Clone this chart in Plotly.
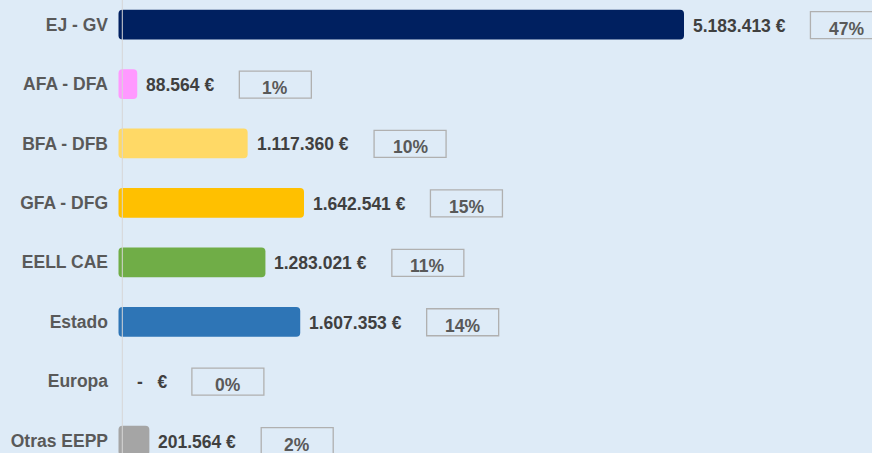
import plotly.graph_objects as go

# ---- data ----
categories = ["EJ - GV", "AFA - DFA", "BFA - DFB", "GFA - DFG",
              "EELL CAE", "Estado", "Europa", "Otras EEPP"]
values = [5183413, 88564, 1117360, 1642541, 1283021, 1607353, 0, 201564]
percent_labels = ["47%", "1%", "10%", "15%", "11%", "14%", "0%", "2%"]
bar_colors = ["#002060", "#FF99FF", "#FFD966", "#FFC000",
              "#70AD47", "#2E75B6", "#A5A5A5", "#A5A5A5"]

# ---- styling constants ----
W, H = 872, 453
LEFT = 115                  # plot area left edge (px)
ZERO_PX = 127.73            # pixel position of value 0
PX_PER_EUR = 1.07318e-4     # horizontal scale
BAR_START_PX = 118.5        # bars are drawn slightly left of zero
AXIS_LINE_PX = 122.3
FONT = "Liberation Sans"
FS = 17.5
BG = "#DEEBF7"

EUR_PER_PX = 1 / PX_PER_EUR
PAD = (ZERO_PX - BAR_START_PX) * EUR_PER_PX
x_range = [(LEFT - ZERO_PX) * EUR_PER_PX, (W - ZERO_PX) * EUR_PER_PX]

EM = {c: 0.556 for c in "0123456789"}
EM.update({".": 0.278, " ": 0.278, "\u00a0": 0.278, "€": 0.556, "-": 0.333, "%": 0.889})


def euro(v):
    if v == 0:
        return "-\u00a0\u00a0\u00a0€"
    return f"{v:,}".replace(",", ".") + " €"


def text_w(s):
    return sum(EM.get(c, 0.556) for c in s) * FS


value_labels = [euro(v) for v in values]

fig = go.Figure()
fig.add_trace(go.Bar(
    y=categories,
    x=[v + PAD if v > 0 else 0 for v in values],
    base=-PAD,
    orientation="h",
    width=0.5,
    marker=dict(color=bar_colors, line=dict(width=0), cornerradius=4),
    hoverinfo="skip",
))

LABEL_GAP = 7
BOX_GAP = 26
BOX_W = 72
BOX_H = 27

annotations = []
shapes = []
for i, (cat, v, lab, pct) in enumerate(zip(categories, values, value_labels, percent_labels)):
    annotations.append(dict(
        x=v, y=cat, xref="x", yref="y", text=lab, showarrow=False,
        xanchor="left", yanchor="middle", xshift=LABEL_GAP, yshift=-1,
        font=dict(family=FONT, size=FS, color="#404040", weight="bold"),
    ))
    bx0 = LABEL_GAP + 1 + text_w(lab) + BOX_GAP
    shapes.append(dict(
        type="rect", xref="x", yref="y",
        xsizemode="pixel", xanchor=v, x0=bx0, x1=bx0 + BOX_W,
        ysizemode="pixel", yanchor=i, y0=-BOX_H / 2 - 0.5, y1=BOX_H / 2 - 0.5,
        line=dict(color="#B0B0B0", width=1.3), fillcolor="rgba(0,0,0,0)",
        layer="above",
    ))
    annotations.append(dict(
        x=v, y=cat, xref="x", yref="y", text=pct, showarrow=False,
        xanchor="center", yanchor="middle", xshift=bx0 + BOX_W / 2, yshift=-4,
        font=dict(family=FONT, size=FS, color="#595959", weight="bold"),
    ))

shapes.append(dict(
    type="line", xref="x", yref="paper",
    x0=(AXIS_LINE_PX - ZERO_PX) * EUR_PER_PX, x1=(AXIS_LINE_PX - ZERO_PX) * EUR_PER_PX,
    y0=0, y1=1, line=dict(color="#D6D6D6", width=1), layer="above",
))

fig.update_layout(
    width=W, height=H,
    margin=dict(l=LEFT, r=0, t=0, b=0),
    paper_bgcolor=BG, plot_bgcolor=BG,
    showlegend=False,
    annotations=annotations,
    shapes=shapes,
    xaxis=dict(range=x_range, visible=False, fixedrange=True),
    yaxis=dict(
        type="category", categoryorder="array", categoryarray=categories,
        range=[7.208, -0.414], showgrid=False, zeroline=False, showline=False,
        ticks="", ticklabelstandoff=6,
        tickfont=dict(family=FONT, size=FS, color="#595959", weight="bold"),
        fixedrange=True,
    ),
)

fig.write_html(
    "out.html",
    config={"displayModeBar": False},
    post_script="document.body.style.margin='0';document.body.style.overflow='hidden';",
)
